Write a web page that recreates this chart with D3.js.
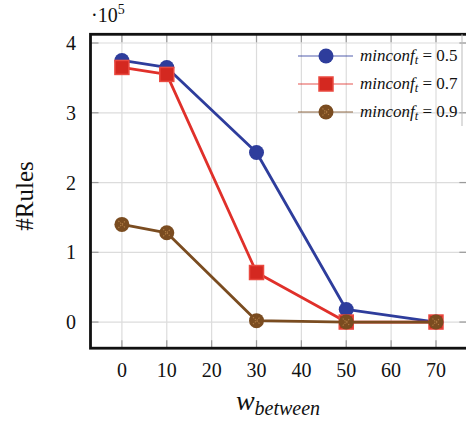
<!DOCTYPE html>
<html><head><meta charset="utf-8">
<script src="https://cdn.jsdelivr.net/npm/d3@7"></script>
<style>body{margin:0;background:#fff;} svg{display:block;} text{font-family:"Liberation Serif","Times New Roman",serif;}</style>
</head><body>
<script>
const xValues = [0, 10, 30, 50, 70];
const xTicks = [0, 10, 20, 30, 40, 50, 60, 70];
const yTicks = [0, 1, 2, 3, 4];
const series05 = [3.75, 3.65, 2.43, 0.18, 0.0];
const series07 = [3.65, 3.55, 0.71, 0.0, 0.0];
const series09 = [1.40, 1.28, 0.02, 0.0, 0.0];
const seriesNames = ["0.5", "0.7", "0.9"];

const W = 466, H = 424;
const svg = d3.select("body").append("svg").attr("width", W).attr("height", H);

const x = d3.scaleLinear().domain([-7, 77]).range([90.5, 467.4]);
const y = d3.scaleLinear().domain([-0.375, 4.125]).range([348.2, 34.3]);

const L = x.range()[0], R = x.range()[1], T = y.range()[1], B = y.range()[0];

const g = svg.append("g");
g.selectAll(".gx").data(xTicks).enter().append("line")
  .attr("x1", d => x(d)).attr("x2", d => x(d)).attr("y1", T).attr("y2", B)
  .attr("stroke", "#dcdcdc").attr("stroke-width", 1.2);
g.selectAll(".gy").data(yTicks).enter().append("line")
  .attr("y1", d => y(d)).attr("y2", d => y(d)).attr("x1", L).attr("x2", R)
  .attr("stroke", "#dcdcdc").attr("stroke-width", 1.2);
const tl = 8;
xTicks.forEach(d => {
  g.append("line").attr("x1", x(d)).attr("x2", x(d)).attr("y1", B).attr("y2", B - tl).attr("stroke", "#9a9a9a").attr("stroke-width", 1.2);
  g.append("line").attr("x1", x(d)).attr("x2", x(d)).attr("y1", T).attr("y2", T + tl).attr("stroke", "#9a9a9a").attr("stroke-width", 1.2);
});
yTicks.forEach(d => {
  g.append("line").attr("y1", y(d)).attr("y2", y(d)).attr("x1", L).attr("x2", L + tl).attr("stroke", "#9a9a9a").attr("stroke-width", 1.2);
  g.append("line").attr("y1", y(d)).attr("y2", y(d)).attr("x1", R).attr("x2", R - tl).attr("stroke", "#9a9a9a").attr("stroke-width", 1.2);
});

svg.selectAll(".xl").data(xTicks).enter().append("text")
  .attr("x", d => x(d)).attr("y", 377).attr("text-anchor", "middle")
  .attr("font-size", 20).attr("fill", "#111").text(d => d);
svg.selectAll(".yl").data(yTicks).enter().append("text")
  .attr("x", 76).attr("y", d => y(d) + 7).attr("text-anchor", "end")
  .attr("font-size", 20).attr("fill", "#111").text(d => d);

const sc = svg.append("text").attr("x", 91).attr("y", 22).attr("font-size", 20).attr("fill", "#111");
sc.append("tspan").text("·10");
sc.append("tspan").attr("dy", -8).attr("font-size", 14).text("5");

svg.append("text").attr("transform", "translate(33,196) rotate(-90)").attr("text-anchor", "middle")
  .attr("font-size", 25).attr("fill", "#111").text("#Rules");
const xt = svg.append("text").attr("x", 278).attr("y", 410).attr("text-anchor", "middle")
  .attr("font-style", "italic").attr("fill", "#111");
xt.append("tspan").attr("font-size", 28).text("w");
xt.append("tspan").attr("font-size", 20).attr("dy", 5).text("between");

const colors = ["#2e3d9c", "#e0302a", "#7a4c20"];
const data = [series05, series07, series09];
const line = d3.line().x((d, i) => x(xValues[i])).y(d => y(d));

function drawMarker(sel, k, cx, cy) {
  if (k === 0) {
    sel.append("circle").attr("cx", cx).attr("cy", cy).attr("r", 7.5).attr("fill", colors[0]);
  } else if (k === 1) {
    sel.append("rect").attr("x", cx - 7).attr("y", cy - 7).attr("width", 14).attr("height", 14)
      .attr("fill", "#d42820").attr("stroke", "#ea4a40").attr("stroke-width", 1.5);
  } else {
    sel.append("circle").attr("cx", cx).attr("cy", cy).attr("r", 7.5).attr("fill", colors[2]);
    const s = 3.5;
    sel.append("path").attr("d", `M${cx - s},${cy - s}L${cx + s},${cy + s}M${cx - s},${cy + s}L${cx + s},${cy - s}`)
      .attr("stroke", "#b07c44").attr("stroke-width", 1.1).attr("stroke-dasharray", "1.3,1.3").attr("fill", "none");
  }
}

data.forEach((vals, k) => {
  const sg = svg.append("g");
  sg.append("path").datum(vals).attr("d", line).attr("fill", "none")
    .attr("stroke", colors[k]).attr("stroke-width", 2.8).attr("stroke-linejoin", "round");
  vals.forEach((v, i) => drawMarker(sg, k, x(xValues[i]), y(v)));
});

svg.append("rect").attr("x", L).attr("y", T).attr("width", R - L).attr("height", B - T)
  .attr("fill", "none").attr("stroke", "#111").attr("stroke-width", 2.8);

const lg = svg.append("g");
const legY = [56, 84, 112];
seriesNames.forEach((nm, k) => {
  const yy = legY[k];
  lg.append("line").attr("x1", 298).attr("x2", 353).attr("y1", yy).attr("y2", yy)
    .attr("stroke", colors[k]).attr("stroke-width", 1.6).attr("stroke-opacity", 0.55);
  drawMarker(lg, k, 326, yy);
  const t = lg.append("text").attr("x", 360).attr("y", yy + 5).attr("font-size", 17).attr("fill", "#111");
  t.append("tspan").attr("font-style", "italic").text("minconf");
  t.append("tspan").attr("font-style", "italic").attr("font-size", 12.5).attr("dy", 3).text("t");
  t.append("tspan").attr("dy", -3).text(" = " + nm);
});
lg.append("line").attr("x1", 462).attr("x2", 462).attr("y1", T).attr("y2", 126).attr("stroke", "#bbb").attr("stroke-width", 1);
</script>
</body></html>
